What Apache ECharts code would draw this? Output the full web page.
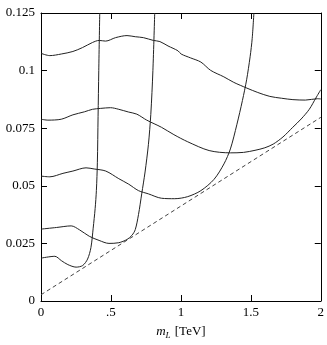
<!DOCTYPE html>
<html><head><meta charset="utf-8">
<script src="https://cdn.jsdelivr.net/npm/echarts@6/dist/echarts.min.js"></script>
<style>html,body{margin:0;padding:0;background:#fff}#c{width:327px;height:345px}</style>
</head><body><div id="c"></div>
<script>
// Curve data (x in TeV, y values)
const curveAX = [0, 0.063, 0.145, 0.228, 0.297, 0.368, 0.415, 0.462, 0.533, 0.615, 0.674, 0.732, 0.803, 0.850, 0.908, 0.979, 1.002, 1.070, 1.143, 1.213, 1.307, 1.378, 1.472, 1.55, 1.636, 1.72, 1.801, 1.89, 1.977, 2];
const curveAY = [0.1075, 0.1065, 0.1072, 0.1083, 0.1100, 0.1122, 0.1131, 0.1128, 0.1143, 0.1152, 0.1147, 0.1143, 0.1131, 0.1126, 0.1107, 0.1086, 0.1072, 0.1055, 0.1037, 0.1001, 0.0973, 0.0949, 0.0924, 0.0905, 0.0888, 0.0880, 0.0874, 0.0872, 0.0878, 0.0877];

const curveBX = [0, 0.05, 0.145, 0.228, 0.31, 0.368, 0.427, 0.497, 0.556, 0.627, 0.685, 0.756, 0.861, 0.95, 1.049, 1.202, 1.354, 1.448, 1.53, 1.60, 1.66, 1.73, 1.80, 1.86, 1.918, 1.965, 2];
const curveBY = [0.0789, 0.0785, 0.0789, 0.0808, 0.0821, 0.0832, 0.0836, 0.0839, 0.0832, 0.0820, 0.0811, 0.0785, 0.0754, 0.0722, 0.0691, 0.0653, 0.0643, 0.0645, 0.0654, 0.0665, 0.0681, 0.0712, 0.0754, 0.0790, 0.0832, 0.0881, 0.0917];

const curveCX = [0, 0.063, 0.157, 0.228, 0.322, 0.380, 0.463, 0.556, 0.627, 0.697, 0.768, 0.861, 0.956, 1.049, 1.143, 1.237, 1.308, 1.354, 1.40, 1.44, 1.47, 1.495, 1.51, 1.522];
const curveCY = [0.0542, 0.0539, 0.0554, 0.0564, 0.0578, 0.0573, 0.0564, 0.0531, 0.0507, 0.0479, 0.0465, 0.0446, 0.0444, 0.0453, 0.0479, 0.0528, 0.0595, 0.0660, 0.0765, 0.0870, 0.0960, 0.1060, 0.1140, 0.125];

const curveDX = [0, 0.11, 0.216, 0.275, 0.345, 0.415, 0.486, 0.556, 0.615, 0.65, 0.674, 0.697, 0.72, 0.744, 0.768, 0.785, 0.80, 0.813];
const curveDY = [0.0312, 0.0319, 0.0326, 0.0309, 0.0281, 0.0263, 0.0250, 0.0253, 0.0267, 0.0285, 0.0310, 0.0375, 0.0465, 0.0560, 0.0680, 0.0810, 0.1000, 0.125];

const curveEX = [0, 0.099, 0.146, 0.192, 0.251, 0.298, 0.333, 0.357, 0.373, 0.387, 0.396, 0.403, 0.408, 0.413, 0.42];
const curveEY = [0.0186, 0.0194, 0.0175, 0.0158, 0.0147, 0.0154, 0.0182, 0.0232, 0.0316, 0.0401, 0.0480, 0.0600, 0.0800, 0.1000, 0.125];

const boundX = [0, 2];
const boundY = [0.0027, 0.0797];

const xTickLabels = ['0', '.5', '1', '1.5', '2'];
const yTickLabels = ['0', '0.025', '0.05', '0.075', '0.1', '0.125'];

function zip(xs, ys) { return xs.map((x, i) => [x, ys[i]]); }

const FONT = 'Liberation Serif';
const chart = echarts.init(document.getElementById('c'), null, {renderer: 'canvas'});

function solid(xs, ys) {
  return {type: 'line', data: zip(xs, ys), showSymbol: false, symbol: 'none', smooth: 0.3,
    xAxisIndex: 0, yAxisIndex: 0,
    lineStyle: {color: '#222', width: 1}};
}

const axisBase = {
  min: 0, axisLine: {show: true, onZero: false, lineStyle: {color: '#000', width: 1}},
  axisTick: {show: true, inside: true, length: 6, lineStyle: {color: '#000', width: 1}},
  splitLine: {show: false}
};

chart.setOption({
  animation: false,
  backgroundColor: '#fff',
  grid: {left: 41, right: 2, top: 13, bottom: 37, containLabel: false},
  xAxis: [
    Object.assign({}, axisBase, {type: 'value', position: 'bottom', max: 2, interval: 0.5,
      axisLabel: {show: true, margin: 5, color: '#000', fontFamily: FONT, fontSize: 13,
        formatter: (v, i) => xTickLabels[i]},
      name: '{m|m}{s|L} [TeV]', nameLocation: 'middle', nameGap: 23,
      nameTextStyle: {color: '#000', fontFamily: FONT, fontSize: 13,
        rich: {m: {fontFamily: FONT, fontStyle: 'italic', fontSize: 13, color: '#000'},
               s: {fontFamily: FONT, fontStyle: 'italic', fontSize: 9, color: '#000', padding: [7, 1, 0, 0]}}}
    }),
    Object.assign({}, axisBase, {type: 'value', position: 'top', max: 2, interval: 0.5,
      axisLabel: {show: false}})
  ],
  yAxis: [
    Object.assign({}, axisBase, {type: 'value', position: 'left', max: 0.125, interval: 0.025,
      axisLabel: {show: true, margin: 6, color: '#000', fontFamily: FONT, fontSize: 13,
        formatter: (v, i) => yTickLabels[i]}}),
    Object.assign({}, axisBase, {type: 'value', position: 'right', max: 0.125, interval: 0.025,
      axisLabel: {show: false}})
  ],
  series: [
    solid(curveAX, curveAY),
    solid(curveBX, curveBY),
    solid(curveCX, curveCY),
    solid(curveDX, curveDY),
    solid(curveEX, curveEY),
    {type: 'line', data: zip(boundX, boundY), showSymbol: false, symbol: 'none',
      lineStyle: {color: '#444', width: 1, type: [4, 3]}}
  ]
});
</script></body></html>
